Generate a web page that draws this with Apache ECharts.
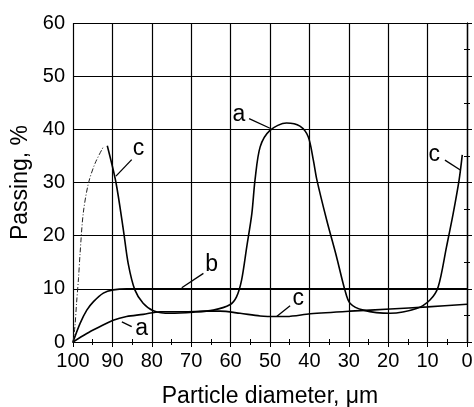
<!DOCTYPE html>
<html>
<head>
<meta charset="utf-8">
<script src="https://cdn.jsdelivr.net/npm/echarts@6/dist/echarts.min.js"></script>
<style>
html,body{margin:0;padding:0;background:#fff;}
#chart{width:474px;height:407px;}
</style>
</head>
<body>
<div id="chart"></div>
<script>
// Data: [particle diameter (µm), passing (%)]
const xTicks = [100, 90, 80, 70, 60, 50, 40, 30, 20, 10, 0];
const yTicks = [0, 10, 20, 30, 40, 50, 60];

const curveLower = [[100,0],[96.5,1.6],[93.1,2.9],[89.8,4.1],[86.4,4.8],[82.2,5.2],[77.9,5.7],[72,5.7],[66,5.8],[62.7,5.8],[57.6,5.4],[52.5,4.9],[48,4.8],[45.8,4.8],[39.8,5.3],[29.7,5.8],[19.5,6.2],[10,6.6],[0,7.1]];

const curveB = [[100,0],[98.2,3.5],[96.5,6],[94.8,7.6],[92.3,9.2],[89.8,9.8],[86.4,10],[80,10],[60,10],[40,10],[20,10],[0,10]];

const curveHump = [[91.3,36.9],[89.1,30],[87.2,21],[86,14.8],[84.3,9.8],[82.2,7.3],[79.6,5.9],[75.4,5.4],[69.5,5.6],[64.4,6],[60.2,7],[58.5,8.5],[57.2,11.7],[55.9,17.9],[54.6,24.2],[53.8,30.5],[52.5,36.7],[50,39.8],[45.8,41.2],[42.4,40.6],[40.3,38.6],[39,34.2],[38.1,30.5],[35.6,22.9],[33.1,16],[31,9.8],[29.7,7.3],[26.3,6],[19.5,5.4],[12.8,6.3],[9.4,7.9],[7.3,10.4],[5.2,17.9],[3.5,24.2],[2,30.5],[1.2,35.2]];

const curveDashDot = [[100,0],[99.5,3],[99.1,7.3],[98.6,12],[98.2,16.7],[97.4,24.2],[96.1,29.8],[94.4,33.6],[92.3,36.7]];

// annotation labels: text, label position, leader start, leader end (data coords)
const labelTexts = ['c', 'a', 'c', 'b', 'a', 'c'];
const labelPos = [[83.4,36.4],[57.9,42.8],[8.3,35.3],[64.8,14.5],[82.6,2.6],[42.8,8.2]];
const leaderFrom = [[85.1,34.3],[55.3,42],[5.6,34.2],[66.9,12.9],[85.1,2.9],[44.9,6.8]];
const leaderTo = [[89.1,31.2],[50,40.2],[1.6,32.3],[72.4,10.2],[87.6,3.8],[48.3,4.8]];

const FONT = 'Liberation Sans, Arial, sans-serif';
const chart = echarts.init(document.getElementById('chart'));

const axisCommon = {
  type: 'value',
  axisLine: {show: true, lineStyle: {color: '#000', width: 1.2}},
  axisTick: {show: true, inside: true, length: 5, lineStyle: {color: '#000'}},
  minorTick: {show: true, splitNumber: 2, length: 3, lineStyle: {color: '#000'}},
};

chart.setOption({
  animation: false,
  grid: {left: 73, right: 7, top: 23, bottom: 65, containLabel: false, outerBoundsMode: 'none'},
  xAxis: [
    Object.assign({}, axisCommon, {
      position: 'bottom', min: 0, max: 100, interval: 10, inverse: true,
      splitLine: {show: true, lineStyle: {color: '#000', width: 1.2}},
      axisLabel: {color: '#000', fontSize: 20, fontFamily: FONT, margin: 9},
      name: 'Particle diameter, \u03bcm', nameLocation: 'middle', nameGap: 43,
      nameTextStyle: {color: '#000', fontSize: 23, fontFamily: FONT}
    }),
    Object.assign({}, axisCommon, {
      position: 'top', min: 0, max: 100, interval: 10, inverse: true,
      splitLine: {show: false}, axisLabel: {show: false}
    })
  ],
  yAxis: [
    Object.assign({}, axisCommon, {
      position: 'left', min: 0, max: 60, interval: 10,
      splitLine: {show: true, lineStyle: {color: '#000', width: 1.2}},
      axisLabel: {color: '#000', fontSize: 20, fontFamily: FONT, margin: 8},
      name: 'Passing, %', nameLocation: 'middle', nameGap: 30,
      nameTextStyle: {color: '#000', fontSize: 23, fontFamily: FONT}
    }),
    Object.assign({}, axisCommon, {
      position: 'right', min: 0, max: 60, interval: 10,
      splitLine: {show: false}, axisLabel: {show: false}
    })
  ],
  series: [
    {type: 'line', data: curveLower, smooth: 0.3, symbol: 'none', lineStyle: {color: '#000', width: 1.6}},
    {type: 'line', data: curveB, smooth: 0.3, symbol: 'none', lineStyle: {color: '#000', width: 1.6}},
    {type: 'line', data: curveHump, smooth: 0.3, symbol: 'none', lineStyle: {color: '#000', width: 1.6}},
    {type: 'line', data: curveDashDot, smooth: 0.3, symbol: 'none', lineStyle: {color: '#222', width: 1, type: [5,2,1,2]}}
  ]
});

const graphics = [];
labelTexts.forEach(function (t, i) {
  const p = chart.convertToPixel({gridIndex: 0}, labelPos[i]);
  const a = chart.convertToPixel({gridIndex: 0}, leaderFrom[i]);
  const b = chart.convertToPixel({gridIndex: 0}, leaderTo[i]);
  graphics.push({type: 'line', shape: {x1: a[0], y1: a[1], x2: b[0], y2: b[1]}, style: {stroke: '#000', lineWidth: 1.3}, z: 100});
  graphics.push({type: 'text', x: p[0], y: p[1], style: {text: t, fill: '#000', fontSize: 23, fontFamily: FONT, align: 'center', verticalAlign: 'middle'}, z: 100});
});
chart.setOption({graphic: graphics});
</script>
</body>
</html>
